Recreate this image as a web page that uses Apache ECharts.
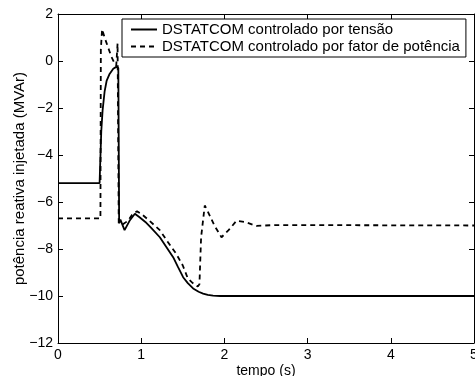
<!DOCTYPE html>
<html>
<head>
<meta charset="utf-8">
<script src="https://cdn.jsdelivr.net/npm/echarts@6/dist/echarts.min.js"></script>
<style>
  html, body { margin: 0; padding: 0; background: #fff; }
  #chart { width: 475px; height: 376px; }
</style>
</head>
<body>
<div id="chart"></div>
<script>
const seriesNames = ['DSTATCOM controlado por tensão', 'DSTATCOM controlado por fator de potência']

const timeTensao = [0, 0.5, 0.505, 0.52, 0.536, 0.56, 0.584, 0.62, 0.664, 0.7, 0.716, 0.725, 0.735, 0.75, 0.8, 0.86, 0.924, 0.98, 1.05, 1.12, 1.224, 1.3, 1.384, 1.44, 1.504, 1.56, 1.624, 1.69, 1.744, 1.8, 1.864, 1.95, 2.1, 5]
const qTensao = [-5.2, -5.2, -4.6, -3.0, -2.1, -1.3, -0.85, -0.55, -0.33, -0.25, -0.22, -0.3, -6.9, -6.75, -7.2, -6.8, -6.5, -6.65, -6.85, -7.1, -7.5, -7.9, -8.35, -8.75, -9.2, -9.45, -9.68, -9.82, -9.9, -9.95, -9.98, -10, -10, -10]

const timeFP = [0, 0.51, 0.515, 0.53, 0.56, 0.6, 0.64, 0.68, 0.7, 0.716, 0.73, 0.745, 0.78, 0.84, 0.9, 0.95, 1.0, 1.1, 1.224, 1.32, 1.42, 1.5, 1.56, 1.62, 1.68, 1.7, 1.72, 1.764, 1.8, 1.88, 1.965, 2.05, 2.145, 2.25, 2.385, 2.6, 5]
const qFP = [-6.7, -6.7, 0.5, 1.35, 1.0, 0.6, 0.2, -0.1, -0.2, 0.75, -6.9, -6.9, -6.95, -6.8, -6.5, -6.4, -6.5, -6.8, -7.2, -7.7, -8.2, -8.7, -9.25, -9.45, -9.6, -9.5, -7.5, -6.15, -6.4, -7.0, -7.5, -7.2, -6.8, -6.85, -7.02, -6.98, -7.0]

const xTicks = [0, 1, 2, 3, 4, 5]
const yTicks = [-12, -10, -8, -6, -4, -2, 0, 2]

const pairs = (xs, ys) => xs.map((x, i) => [x, ys[i]])
const minus = (v) => String(v).replace('-', '\u2212')
const font = 'Liberation Sans, Arial, sans-serif'

const chart = echarts.init(document.getElementById('chart'))
const axisBase = {
  type: 'value',
  axisLine: { show: true, onZero: false, lineStyle: { color: '#000', width: 1 } },
  axisTick: { show: true, inside: true, length: 5, lineStyle: { color: '#000' } },
  splitLine: { show: false },
}
chart.setOption({
  backgroundColor: '#fff',
  animation: false,
  grid: { left: 58, right: 1, top: 14, bottom: 33, containLabel: false, outerBoundsMode: 'none' },
  legend: {
    orient: 'vertical',
    left: 122,
    top: 19,
    backgroundColor: '#fff',
    borderColor: '#000',
    borderWidth: 1,
    padding: [3, 6, 3, 8],
    itemGap: 2,
    itemWidth: 26,
    itemHeight: 12,
    itemStyle: { opacity: 0 },
    textStyle: { fontFamily: font, fontSize: 15, color: '#000' },
    data: seriesNames,
  },
  xAxis: [
    {
      ...axisBase,
      min: 0, max: 5, interval: 1,
      name: 'tempo (s)',
      nameLocation: 'middle',
      nameGap: 21,
      nameMoveOverlap: false,
      nameTextStyle: { fontFamily: font, fontSize: 14, color: '#000' },
      axisLabel: { fontFamily: font, fontSize: 14, color: '#000', margin: 5,
        formatter: (v) => xTicks.includes(v) ? minus(v) : '' },
    },
    {
      ...axisBase,
      position: 'top',
      min: 0, max: 5, interval: 1,
      axisLabel: { show: false },
    },
  ],
  yAxis: [
    {
      ...axisBase,
      min: -12, max: 2, interval: 2,
      name: 'potência reativa injetada (MVAr)',
      nameLocation: 'middle',
      nameGap: 31,
      nameMoveOverlap: false,
      nameTextStyle: { fontFamily: font, fontSize: 15, color: '#000' },
      axisLabel: { fontFamily: font, fontSize: 14, color: '#000', margin: 5,
        formatter: (v) => yTicks.includes(v) ? minus(v) : '' },
    },
    {
      ...axisBase,
      position: 'right',
      min: -12, max: 2, interval: 2,
      axisLabel: { show: false },
    },
  ],
  series: [
    {
      name: seriesNames[0],
      type: 'line',
      showSymbol: false,
      symbol: 'none',
      data: pairs(timeTensao, qTensao),
      lineStyle: { color: '#000', width: 1.8 },
      itemStyle: { color: '#000' },
    },
    {
      name: seriesNames[1],
      type: 'line',
      showSymbol: false,
      symbol: 'none',
      data: pairs(timeFP, qFP),
      lineStyle: { color: '#000', width: 1.8, type: [5, 4] },
      itemStyle: { color: '#000' },
    },
  ],
})
</script>
</body>
</html>
